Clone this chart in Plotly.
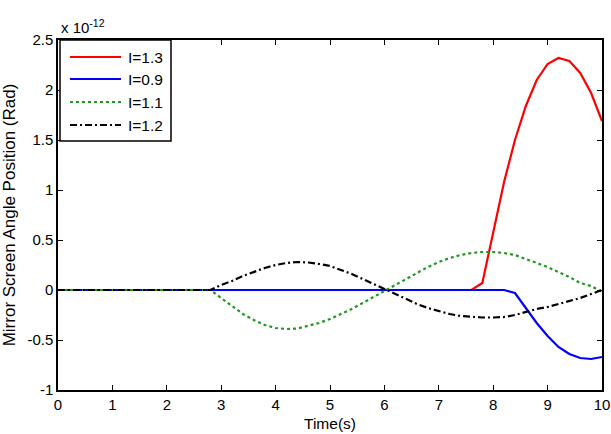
import plotly.graph_objects as go

t = [round(i * 0.2, 1) for i in range(51)]

# values in units of 1e-12 rad
red = [0]*39 + [0.07, 0.58, 1.08, 1.50, 1.84, 2.10, 2.26, 2.32, 2.29, 2.17, 1.97, 1.69]
blue = [0]*42 + [-0.03, -0.18, -0.33, -0.46, -0.57, -0.64, -0.68, -0.69, -0.67]
green = [0]*15 + [-0.08, -0.16, -0.24, -0.30, -0.35, -0.38, -0.39, -0.385, -0.36, -0.33,
                  -0.29, -0.24, -0.19, -0.13, -0.07, -0.01, 0.05, 0.11, 0.17, 0.23,
                  0.28, 0.32, 0.35, 0.37, 0.38, 0.38, 0.37, 0.35, 0.31, 0.27,
                  0.23, 0.18, 0.13, 0.07, 0.04, -0.02, -0.08]
black = [0]*15 + [0.05, 0.09, 0.14, 0.18, 0.22, 0.25, 0.27, 0.28, 0.275, 0.26,
                  0.24, 0.20, 0.16, 0.11, 0.06, 0.01, -0.04, -0.09, -0.14, -0.18,
                  -0.21, -0.24, -0.26, -0.27, -0.275, -0.275, -0.27, -0.25, -0.22, -0.19,
                  -0.17, -0.14, -0.11, -0.08, -0.04, 0.0]

names = ["I=1.3", "I=0.9", "I=1.1", "I=1.2"]
values = [red, blue, green, black]
colors = ["#ff0000", "#0000ff", "#1f9a1f", "#000000"]
dashes = ["solid", "solid", "dot", "7px,3px,2px,3px"]

W, H = 611, 434
L, R, T, B = 58, 9, 40, 44
pw, ph = W - L - R, H - T - B

def px(xp):
    return (xp - L) / pw

def py(yp):
    return (H - B - yp) / ph

fig = go.Figure()
for name, y, c, d in zip(names, values, colors, dashes):
    fig.add_trace(go.Scatter(x=t, y=y, mode="lines", name=name, showlegend=False,
                             line=dict(color=c, width=2.2, dash=d)))

fam = "Liberation Sans, Arial, sans-serif"
font = dict(family=fam, size=15, color="black")
axis = dict(showgrid=False, zeroline=False, showline=True, linecolor="black",
            linewidth=1.5, mirror="ticks", ticks="inside", ticklen=5,
            tickcolor="black", tickwidth=1, tickfont=font, automargin=False)

fig.update_layout(
    width=W, height=H,
    margin=dict(l=L, r=R, t=T, b=B, autoexpand=False),
    paper_bgcolor="white", plot_bgcolor="white",
    font=font,
    xaxis=dict(axis, range=[0, 10], tickmode="array", tickvals=list(range(11)),
               title=dict(text="Time(s)", font=dict(family=fam, size=15.5), standoff=6)),
    yaxis=dict(axis, range=[-1, 2.5], tickmode="array",
               tickvals=[-1, -0.5, 0, 0.5, 1, 1.5, 2, 2.5],
               ticktext=["-1", "-0.5", "0", "0.5", "1", "1.5", "2", "2.5"],
               title=dict(text="Mirror Screen Angle Position (Rad)",
                          font=dict(family=fam, size=17), standoff=8)),
    showlegend=False,
)

# custom legend box (MATLAB style)
fig.add_shape(type="rect", xref="paper", yref="paper",
              x0=px(60), x1=px(171), y0=py(141), y1=py(40),
              line=dict(color="black", width=1.5), fillcolor="white", layer="above")
ys = [57, 79, 102, 125]
for name, c, d, yy in zip(names, colors, dashes, ys):
    fig.add_shape(type="line", xref="paper", yref="paper",
                  x0=px(70), x1=px(121), y0=py(yy), y1=py(yy),
                  line=dict(color=c, width=2.2, dash=d), layer="above")
    fig.add_annotation(xref="paper", yref="paper", x=px(126), y=py(yy),
                       xanchor="left", yanchor="middle", text=name, showarrow=False,
                       font=dict(family=fam, size=15.5, color="black"))

fig.add_annotation(xref="paper", yref="paper", x=px(59), y=1.0, xanchor="left", yanchor="bottom",
                   text="x 10<sup>-12</sup>", showarrow=False,
                   font=dict(family=fam, size=15), yshift=2)

fig.write_html("out.html")
